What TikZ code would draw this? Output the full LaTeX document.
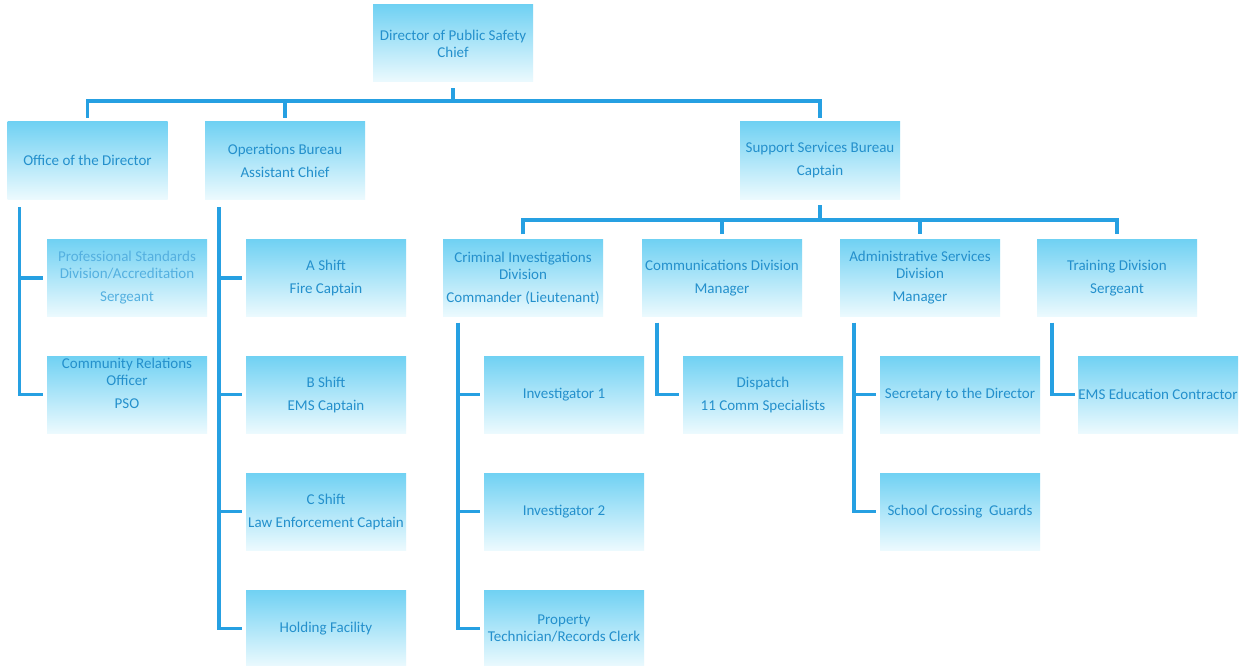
\documentclass[tikz,border=0pt]{standalone}
\usepackage{fontspec}
\setmainfont{Carlito}
\definecolor{boxtop}{RGB}{112,209,243}
\definecolor{boxbot}{RGB}{236,250,254}
\definecolor{txt}{RGB}{36,144,204}
\definecolor{txtlight}{RGB}{84,176,224}
\definecolor{wire}{RGB}{38,160,226}
\begin{document}
\begin{tikzpicture}[x=1pt,y=-1pt,
  orgbox/.style={rectangle, minimum width=160pt, minimum height=77pt, inner sep=0pt,
    top color=boxtop, bottom color=boxbot, draw=none, text=txt, align=center,
    font=\fontsize{15}{17}\selectfont},
  label text/.style={text=txt, align=center, inner sep=0pt, font=\fontsize{15}{17}\selectfont},
  conn/.style={draw=wire, line width=3.6pt, line join=miter, line cap=butt}]

% page
\fill[white] (0,0) rectangle (1247,666);
\useasboundingbox (0,0) rectangle (1247,666);

% top level
\node[orgbox] (dir) at (453,43.5) {Director of Public Safety\\Chief};

% bureaus
\node[orgbox] (office)  at (87.5,160.5) {Office of the Director};
\node[orgbox] (ops)     at (285,160.5)  {Operations Bureau\\[6pt]Assistant Chief};
\node[orgbox] (support) at (820,160.5)  {Support Services Bureau\\[6pt]Captain};

% office of the director
\node[orgbox, text=txtlight] (prof) at (127,278) {Professional Standards\\Division/Accreditation\\[6pt]Sergeant};
\node[orgbox] (commrel) at (127,394.5) {};
\node[label text] (commreltext) at ([yshift=11pt]commrel.center) {Community Relations\\Officer\\[6pt]PSO};

% operations
\node[orgbox] (ashift)  at (326,278)   {A Shift\\[6pt]Fire Captain};
\node[orgbox] (bshift)  at (326,394.5) {B Shift\\[6pt]EMS Captain};
\node[orgbox] (cshift)  at (326,511.5) {C Shift\\[6pt]Law Enforcement Captain};
\node[orgbox] (holding) at (326,628.5) {Holding Facility};

% support divisions
\node[orgbox] (cid)      at (523,278)  {Criminal Investigations\\Division\\[6pt]Commander (Lieutenant)};
\node[orgbox] (commdiv)  at (722,278)  {Communications Division\\[6pt]Manager};
\node[orgbox] (admin)    at (920,278)  {Administrative Services\\Division\\[6pt]Manager};
\node[orgbox] (training) at (1117,278) {Training Division\\[6pt]Sergeant};

% division staff
\node[orgbox] (inv1)      at (564,394.5)  {Investigator 1};
\node[orgbox] (inv2)      at (564,511.5)  {Investigator 2};
\node[orgbox] (property)  at (564,628.5)  {Property\\Technician/Records Clerk};
\node[orgbox] (dispatch)  at (763,394.5)  {Dispatch\\[6pt]11 Comm Specialists};
\node[orgbox] (secretary) at (960,394.5)  {Secretary to the Director};
\node[orgbox] (school)    at (960,511.5)  {School Crossing\ \ Guards};
\node[orgbox] (ems)       at (1158,394.5) {EMS Education Contractor};

% bus from the director to the bureaus
\coordinate (bus1) at ([yshift=-19pt]dir.south);
\draw[conn] ([yshift=-6pt]dir.south) -- (bus1);
\draw[conn] ([yshift=4pt]office.north) |- (bus1) -| ([yshift=4pt]support.north);
\draw[conn] (ops.north |- bus1) -- ([yshift=4pt]ops.north);

% bus from support services to its divisions
\coordinate (bus2) at ([yshift=-21pt]support.south);
\draw[conn] ([yshift=-6pt]support.south) -- (bus2);
\draw[conn] ([yshift=5pt]cid.north) |- (bus2) -| ([yshift=5pt]training.north);
\draw[conn] (commdiv.north |- bus2) -- ([yshift=5pt]commdiv.north);
\draw[conn] (admin.north |- bus2) -- ([yshift=5pt]admin.north);

% spines down to each unit
\coordinate (offspine) at ([xshift=12pt,yshift=-8pt]office.south west);
\draw[conn] (offspine) |- ([xshift=-4pt]commrel.west);
\draw[conn] (offspine |- prof.west) -- ([xshift=-4pt]prof.west);

\coordinate (opsspine) at ([xshift=14pt,yshift=-8pt]ops.south west);
\draw[conn] (opsspine) |- ([xshift=-4pt]holding.west);
\draw[conn] (opsspine |- ashift.west) -- ([xshift=-4pt]ashift.west);
\draw[conn] (opsspine |- bshift.west) -- ([xshift=-4pt]bshift.west);
\draw[conn] (opsspine |- cshift.west) -- ([xshift=-4pt]cshift.west);

\coordinate (cidspine) at ([xshift=15pt,yshift=-6pt]cid.south west);
\draw[conn] (cidspine) |- ([xshift=-4pt]property.west);
\draw[conn] (cidspine |- inv1.west) -- ([xshift=-4pt]inv1.west);
\draw[conn] (cidspine |- inv2.west) -- ([xshift=-4pt]inv2.west);

\coordinate (commspine) at ([xshift=15pt,yshift=-6pt]commdiv.south west);
\draw[conn] (commspine) |- ([xshift=-4pt]dispatch.west);

\coordinate (adminspine) at ([xshift=14pt,yshift=-6pt]admin.south west);
\draw[conn] (adminspine) |- ([xshift=-4pt]school.west);
\draw[conn] (adminspine |- secretary.west) -- ([xshift=-4pt]secretary.west);

\coordinate (trainspine) at ([xshift=15pt,yshift=-6pt]training.south west);
\draw[conn] (trainspine) |- ([xshift=-3pt]ems.west);
\end{tikzpicture}
\end{document}
